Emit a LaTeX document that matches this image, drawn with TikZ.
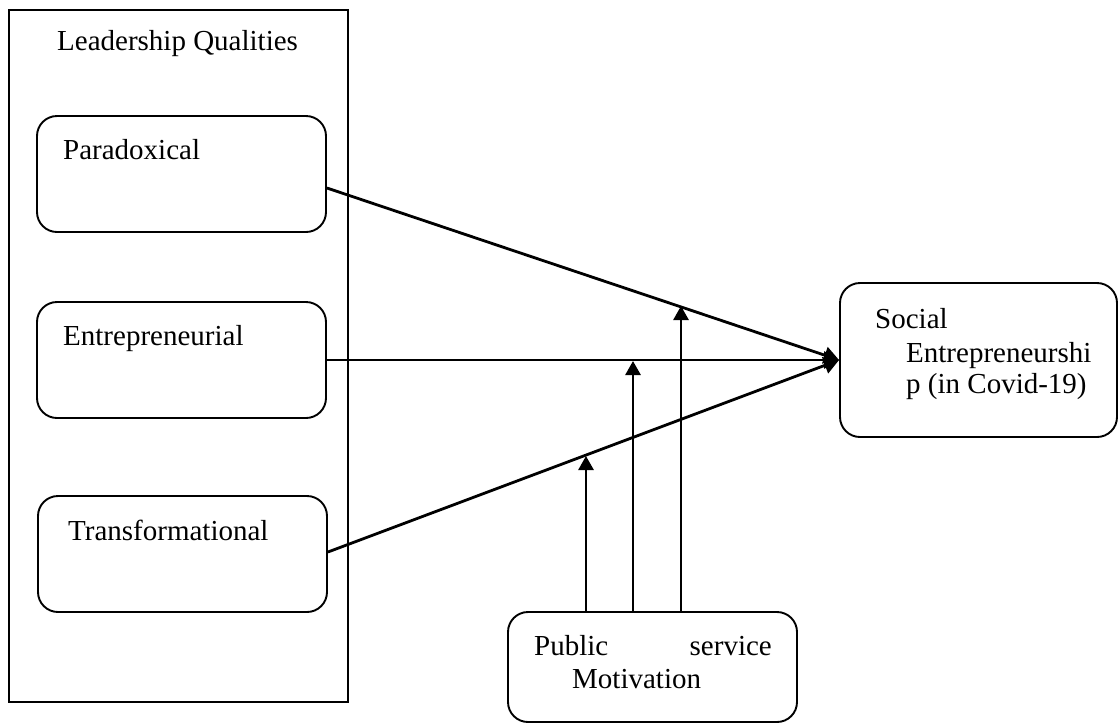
\documentclass[tikz,border=0pt]{standalone}
\usepackage{fontspec}
\setmainfont{Liberation Serif}
\usetikzlibrary{arrows.meta}
\begin{document}
\begin{tikzpicture}[x=1pt,y=-1pt,
  box/.style={draw, line width=1.9pt, rounded corners=20pt, inner sep=0pt},
  frame/.style={draw, line width=1.9pt, inner sep=0pt},
  lbl/.style={anchor=base west, inner sep=0pt, font=\fontsize{29}{33}\selectfont},
  lble/.style={anchor=base east, inner sep=0pt, font=\fontsize{29}{33}\selectfont},
  conn/.style={line width=2.8pt, -{Triangle[length=15pt,width=17pt]}},
  modc/.style={line width=2.8pt, -{Triangle[length=14pt,width=15pt]}}]
\useasboundingbox (0,0) rectangle (1118,724);
% outer frame
\node[frame, minimum width=339pt, minimum height=692pt] (outer) at (178.5,356) {};
\node[lbl] (lq) at (57,50) {Leadership Qualities};
% left boxes
\node[box, minimum width=289pt, minimum height=116pt] (para) at (181.5,174) {};
\node[lbl] (paral) at (63,159) {Paradoxical};
\node[box, minimum width=289pt, minimum height=116pt] (entr) at (181.5,360) {};
\node[lbl] (entrl) at (63,345) {Entrepreneurial};
\node[box, minimum width=289pt, minimum height=116pt] (trans) at (182.5,554) {};
\node[lbl] (transl) at (68,540) {Transformational};
% outcome box
\node[box, minimum width=277pt, minimum height=154pt] (soc) at (978.5,360) {};
\node[lbl] (socl1) at (875,328) {Social};
\node[lbl] (socl2) at (906,362) {Entrepreneurshi};
\node[lbl] (socl3) at (906,393) {p (in Covid-19)};
% moderator box
\node[box, minimum width=289pt, minimum height=110pt] (pub) at (652.5,667) {};
\node[lbl] (publ1) at (534,655) {Public};
\node[lble] (publ2) at (772,655) {service};
\node[lbl] (publ3) at (572,688) {Motivation};
% main connectors
\draw[conn] ([yshift=-14pt]para.east) -- (soc.west);
\draw[conn] (entr.east) -- (soc.west);
\draw[conn] ([yshift=2pt]trans.east) -- (soc.west);
% moderating arrows
\coordinate (m1) at (586,456);
\coordinate (m2) at (633,361);
\coordinate (m3) at (681,306);
\draw[modc] (pub.north -| m1) -- (m1);
\draw[modc] (pub.north -| m2) -- (m2);
\draw[modc] (pub.north -| m3) -- (m3);
\end{tikzpicture}
\end{document}
